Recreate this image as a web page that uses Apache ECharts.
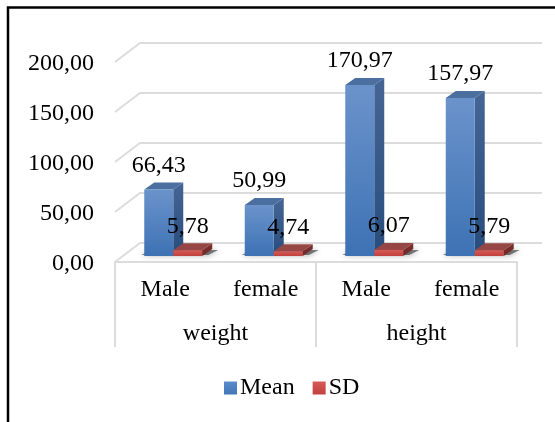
<!DOCTYPE html>
<html>
<head>
<meta charset="utf-8">
<style>
  html, body { margin: 0; padding: 0; background: #fff; }
  #main { width: 555px; height: 422px; }
</style>
<script src="https://cdn.jsdelivr.net/npm/echarts@6/dist/echarts.min.js"></script>
</head>
<body>
<div id="main"></div>
<script>
var categories = ['Male', 'female', 'Male', 'female'];
var groups = ['weight', 'height'];
var meanValues = [66.43, 50.99, 170.97, 157.97];
var sdValues = [5.78, 4.74, 6.07, 5.79];
var yTicks = [0, 50, 100, 150, 200];

var FONT = '"Liberation Serif", "Times New Roman", serif';
var FONT_SIZE = 24;
var GRID_COLOR = '#dcdcdc';

// fake 3d, in px
var WALL_DX = 25, WALL_DY = 19;
var BASE_DX = 8, BASE_DY = 6;
var BAR_DX = 10, BAR_DY = 7;
var BAR_RATIO = 29 / 100.5;

function comma(v) {
  return v.toFixed(2).replace('.', ',');
}

function grad(c1, c2) {
  return new echarts.graphic.LinearGradient(0, 0, 0, 1, [
    { offset: 0, color: c1 },
    { offset: 1, color: c2 }
  ]);
}

function poly(points, fill) {
  return { type: 'polygon', shape: { points: points }, style: { fill: fill } };
}

function renderWall(params, api) {
  var p = api.coord([0, api.value(0)]);
  var band = api.size([1, 0])[0];
  var left = p[0] - band / 2;
  var right = left + band * categories.length;
  return {
    type: 'polyline',
    shape: { points: [[left, p[1]], [left + WALL_DX, p[1] - WALL_DY], [right + WALL_DX, p[1] - WALL_DY]] },
    style: { stroke: GRID_COLOR, lineWidth: 2, fill: null }
  };
}

function renderShadow(params, api) {
  var p = api.coord([api.value(0), 0]);
  var w = api.size([1, 0])[0] * BAR_RATIO;
  var x0 = p[0] - w + BASE_DX, x1 = p[0] + w + BASE_DX, y = p[1] - BASE_DY - 1;
  return {
    type: 'polygon',
    shape: { points: [[x0 - 3, y], [x1 + 6, y], [x1 + BAR_DX + 6, y - BAR_DY + 2], [x0 + BAR_DX - 3, y - BAR_DY + 2]] },
    style: { fill: 'rgba(30,30,30,0.55)', shadowBlur: 6, shadowColor: 'rgba(0,0,0,0.7)' }
  };
}

function barRenderer(side, colors) {
  return function (params, api) {
    var top = api.coord([api.value(0), api.value(1)]);
    var bottom = api.coord([api.value(0), 0]);
    var w = api.size([1, 0])[0] * BAR_RATIO;
    var x0 = top[0] + BASE_DX + (side < 0 ? -w : 0);
    var x1 = x0 + w;
    var yt = top[1] - BASE_DY;
    var yb = bottom[1] - BASE_DY;
    return {
      type: 'group',
      children: [
        poly([[x1, yt], [x1 + BAR_DX, yt - BAR_DY], [x1 + BAR_DX, yb - BAR_DY], [x1, yb]], grad(colors[2], colors[3])),
        poly([[x0, yt], [x0 + BAR_DX, yt - BAR_DY], [x1 + BAR_DX, yt - BAR_DY], [x1, yt]], colors[4]),
        poly([[x0, yt], [x1, yt], [x1, yb], [x0, yb]], grad(colors[0], colors[1])),
        {
          type: 'text',
          z2: 10,
          style: {
            text: comma(api.value(1)),
            x: (x0 + x1) / 2,
            y: yt - 24,
            align: 'center',
            verticalAlign: 'middle',
            fontFamily: FONT,
            fontSize: FONT_SIZE,
            fill: '#000'
          }
        }
      ]
    };
  };
}

function toData(values) {
  return values.map(function (v, i) { return [i, v]; });
}

var myChart = echarts.init(document.getElementById('main'), null, { renderer: 'canvas' });

var option = {
  backgroundColor: '#fff',
  animation: false,
  graphic: [{
    type: 'rect',
    shape: { x: 8, y: 7.5, width: 620, height: 480 },
    style: { fill: null, stroke: '#000', lineWidth: 2.5 },
    silent: true
  }],
  legend: {
    left: 219,
    top: 371,
    itemWidth: 13,
    itemHeight: 13,
    itemGap: 18,
    icon: 'rect',
    data: ['Mean', 'SD'],
    textStyle: { fontFamily: FONT, fontSize: FONT_SIZE, color: '#000', padding: [0, 0, 0, -2] }
  },
  grid: { left: 115, right: 38, top: 62, bottom: 160 },
  xAxis: [
    {
      type: 'category',
      position: 'bottom',
      data: categories,
      axisTick: { show: false },
      axisLine: { lineStyle: { color: GRID_COLOR, width: 2 } },
      axisLabel: { interval: 0, margin: 16, color: '#000', fontFamily: FONT, fontSize: FONT_SIZE }
    },
    {
      type: 'category',
      position: 'bottom',
      data: groups,
      axisLine: { show: false },
      axisTick: { show: true, length: 85, lineStyle: { color: GRID_COLOR, width: 2 } },
      axisLabel: { interval: 0, margin: 60, color: '#000', fontFamily: FONT, fontSize: FONT_SIZE }
    }
  ],
  yAxis: {
    type: 'value',
    min: 0,
    max: 200,
    interval: 50,
    axisLine: { show: false },
    axisTick: { show: false },
    splitLine: { show: false },
    axisLabel: {
      margin: 21,
      color: '#000',
      fontFamily: FONT,
      fontSize: FONT_SIZE,
      verticalAlign: 'top',
      lineHeight: 4,
      formatter: function (v) { return comma(v); }
    }
  },
  series: [
    {
      type: 'custom',
      name: 'wall',
      silent: true,
      renderItem: renderWall,
      encode: { y: 0 },
      data: yTicks.map(function (v) { return [v]; })
    },
    {
      type: 'custom',
      name: 'shadow',
      silent: true,
      renderItem: renderShadow,
      encode: { x: 0, y: 1 },
      data: toData(meanValues)
    },
    {
      type: 'custom',
      name: 'Mean',
      renderItem: barRenderer(-1, ['#6b93cb', '#3d72b4', '#466594', '#274d7d', '#4b6f9f']),
      encode: { x: 0, y: 1 },
      itemStyle: { color: grad('#5b8ccd', '#4377b8') },
      data: toData(meanValues)
    },
    {
      type: 'custom',
      name: 'SD',
      renderItem: barRenderer(1, ['#d65a57', '#c0413e', '#7c2f2d', '#6f2826', '#964745']),
      encode: { x: 0, y: 1 },
      itemStyle: { color: grad('#d65a57', '#c0413e') },
      data: toData(sdValues)
    }
  ]
};

myChart.setOption(option, true);
</script>
</body>
</html>
